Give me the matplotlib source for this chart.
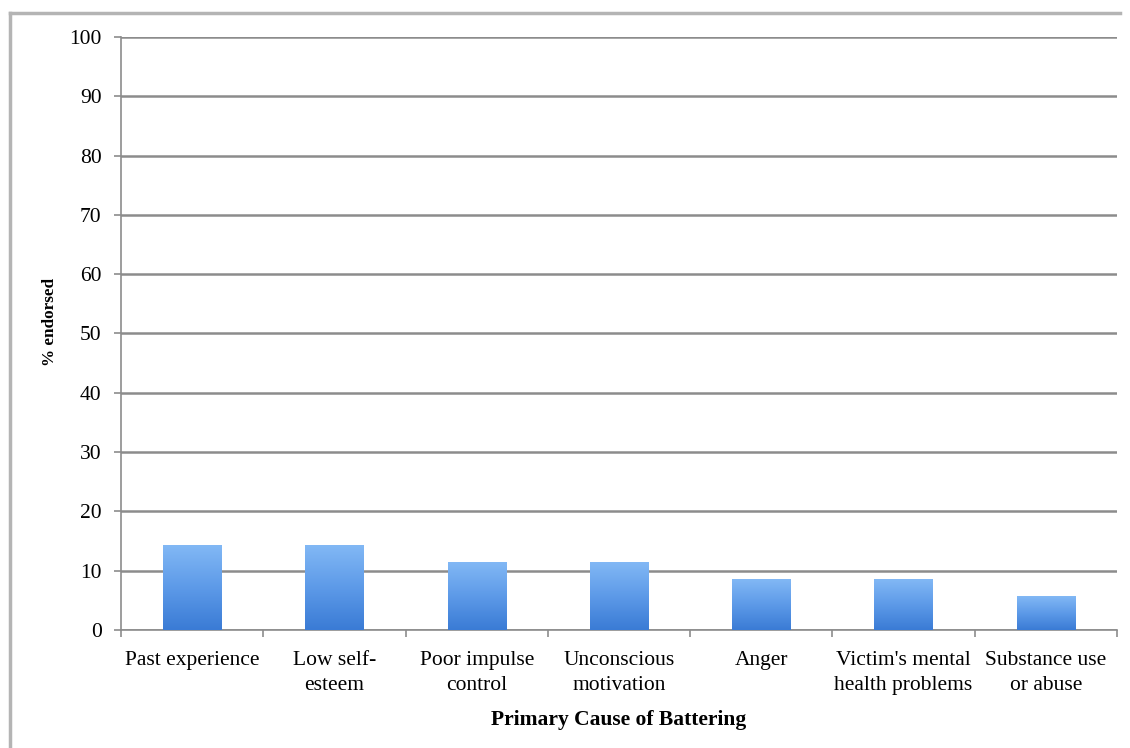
import numpy as np
import matplotlib.pyplot as plt
from matplotlib.lines import Line2D
from matplotlib.colors import LinearSegmentedColormap

causes = ['Past experience', 'Low self-\nesteem', 'Poor impulse\ncontrol',
          'Unconscious\nmotivation', 'Anger', "Victim's mental\nhealth problems",
          'Substance use\nor abuse']
endorsed = [14.3, 14.3, 11.4, 11.4, 8.6, 8.6, 5.7]
y_ticks = [0, 10, 20, 30, 40, 50, 60, 70, 80, 90, 100]

plt.rcParams['font.family'] = ['Liberation Serif', 'DejaVu Serif']

fig = plt.figure(figsize=(11.3, 7.48), dpi=100)
ax = fig.add_axes([0.1071, 0.1578, 0.8814, 0.7927])

x = np.arange(len(causes))
bars = ax.bar(x, endorsed, width=0.41, color='none', zorder=3)

# vertical blue gradient inside each bar
grad = np.linspace(0, 1, 256).reshape(-1, 1)
cmap = LinearSegmentedColormap.from_list('bar', ['#3a7bd5', '#5d9ae8', '#82b8f5'])
for b in bars:
    x0, y0 = b.get_x(), b.get_y()
    im = ax.imshow(grad, cmap=cmap, origin='lower', aspect='auto', zorder=3,
                   extent=[x0, x0 + b.get_width(), y0, y0 + b.get_height()])
    im.set_clip_path(b)

ax.set_xlim(-0.5, len(causes) - 0.5)
ax.set_ylim(0, 100)
ax.set_yticks(y_ticks)
ax.yaxis.grid(True, color='#8c8c8c', linewidth=1.8, zorder=0)
ax.set_axisbelow(True)

ax.set_xticks(x)
ax.set_xticklabels(causes, fontsize=15.5, linespacing=1.45)
ax.tick_params(axis='x', length=0, pad=15)
ax.set_xticks(np.arange(len(causes) + 1) - 0.5, minor=True)
ax.tick_params(axis='x', which='minor', length=5, color='#8c8c8c', width=1.2)
ax.tick_params(axis='y', labelsize=15.5, length=5, color='#8c8c8c', width=1.2, pad=9)

for side in ['top', 'right']:
    ax.spines[side].set_visible(False)
for side in ['left', 'bottom']:
    ax.spines[side].set_color('#8c8c8c')
    ax.spines[side].set_linewidth(1.2)

ax.set_xlabel('Primary Cause of Battering', fontsize=15.5, fontweight='bold', labelpad=11)
ax.set_ylabel('% endorsed', fontsize=12.3, fontweight='bold')
ax.yaxis.set_label_coords(-0.0633, 0.519)

# grey page frame around the chart
fig.add_artist(Line2D([10 / 1130, 10 / 1130], [0, 1 - 13 / 748],
                      color='#b4b4b4', linewidth=2.5))
fig.add_artist(Line2D([10 / 1130, 1120 / 1130], [1 - 13 / 748, 1 - 13 / 748],
                      color='#b4b4b4', linewidth=2.5))

fig.savefig('out.png', dpi=100)
